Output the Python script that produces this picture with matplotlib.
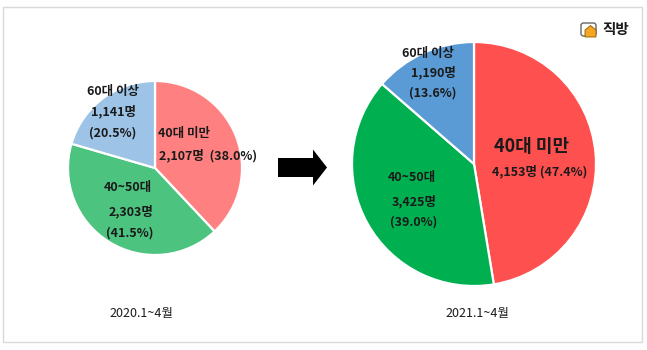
import matplotlib
matplotlib.use("Agg")
import matplotlib.pyplot as plt
from matplotlib.patches import FancyArrow, Rectangle, FancyBboxPatch, Polygon

plt.rcParams['font.family'] = ['Noto Sans CJK KR', 'DejaVu Sans']

# Age groups of buyers, Jan-Apr of each year
groups = ['40대 미만', '40~50대', '60대 이상']
counts_2020 = [2107, 2303, 1141]
shares_2020 = [38.0, 41.5, 20.5]
counts_2021 = [4153, 3425, 1190]
shares_2021 = [47.4, 39.0, 13.6]
period_labels = ['2020.1~4월', '2021.1~4월']

colors_2020 = ['#FF8080', '#4CC37E', '#9DC3E6']
colors_2021 = ['#FF5050', '#00B050', '#5B9BD5']

W, H = 647, 350
fig = plt.figure(figsize=(W / 100, H / 100), dpi=100)
fig.patch.set_facecolor('white')


def pie_axes(cx, cy, r):
    ax = fig.add_axes([(cx - r) / W, (H - cy - r) / H, 2 * r / W, 2 * r / H])
    return ax


def draw_pie(ax, values, colors):
    wedges, _ = ax.pie(values, colors=colors, startangle=90, counterclock=False,
                       wedgeprops=dict(edgecolor='white', linewidth=1.6))
    for w in wedges:
        w.set_clip_on(False)
    ax.set_xlim(-1, 1)
    ax.set_ylim(-1, 1)
    ax.set_aspect('equal')
    ax.axis('off')


ax1 = pie_axes(155, 168, 87)
draw_pie(ax1, shares_2020, colors_2020)
ax2 = pie_axes(474, 164, 122)
draw_pie(ax2, shares_2021, colors_2021)

# overlay axes in pixel coordinates for frame, labels, arrow, captions and logo
ov = fig.add_axes([0, 0, 1, 1])
ov.set_zorder(10)
ov.patch.set_alpha(0)
ov.set_xlim(0, W)
ov.set_ylim(H, 0)
ov.axis('off')

ov.add_patch(Rectangle((2.5, 6.5), 639.5, 335, fill=False, edgecolor='#D9D9D9', linewidth=1.0))

txt = dict(color='#1A1A1A', fontweight='bold', ha='center', va='center', fontsize=9)

# 2020 labels
ov.text(113, 91, groups[2], **txt)
ov.text(113, 112, f'{counts_2020[2]:,}명', **txt)
ov.text(113, 133, f'({shares_2020[2]:.1f}%)', **txt)
ov.text(184, 133, groups[0], **txt)
ov.text(208, 156, f'{counts_2020[0]:,}명  ({shares_2020[0]:.1f}%)', **txt)
ov.text(128, 188, groups[1], **txt)
ov.text(131, 212, f'{counts_2020[1]:,}명', **txt)
ov.text(130, 233, f'({shares_2020[1]:.1f}%)', **txt)

# 2021 labels
ov.text(428, 53, groups[2], **txt)
ov.text(433, 73, f'{counts_2021[2]:,}명', **txt)
ov.text(433, 93, f'({shares_2021[2]:.1f}%)', **txt)
big = dict(txt)
big['fontsize'] = 13
ov.text(532, 147, groups[0], **big)
ov.text(540, 172, f'{counts_2021[0]:,}명 ({shares_2021[0]:.1f}%)', **txt)
ov.text(412, 178, groups[1], **txt)
ov.text(414, 202, f'{counts_2021[1]:,}명', **txt)
ov.text(414, 222, f'({shares_2021[1]:.1f}%)', **txt)

# period captions
cap = dict(color='#1A1A1A', ha='center', va='center', fontsize=9)
ov.text(141, 313, period_labels[0], **cap)
ov.text(477, 313, period_labels[1], **cap)

# arrow between the two pies
ov.add_patch(FancyArrow(278, 167.5, 49, 0, width=19, head_width=36, head_length=14,
                        length_includes_head=True, color='black', linewidth=0))

# brand logo
ov.add_patch(FancyBboxPatch((581, 23), 15, 13, boxstyle='round,pad=0,rounding_size=2.5',
                            facecolor='white', edgecolor='#666666', linewidth=1.0))
ov.add_patch(Polygon([(585, 37), (585, 30), (590.5, 25.5), (596, 30), (596, 37)],
                     closed=True, facecolor='#F5A623', edgecolor='#8A5A00', linewidth=0.6))
ov.text(616, 29, '직방', color='#1A1A1A', fontweight='bold', ha='center', va='center', fontsize=10.5)

fig.savefig('out.png', dpi=100)
